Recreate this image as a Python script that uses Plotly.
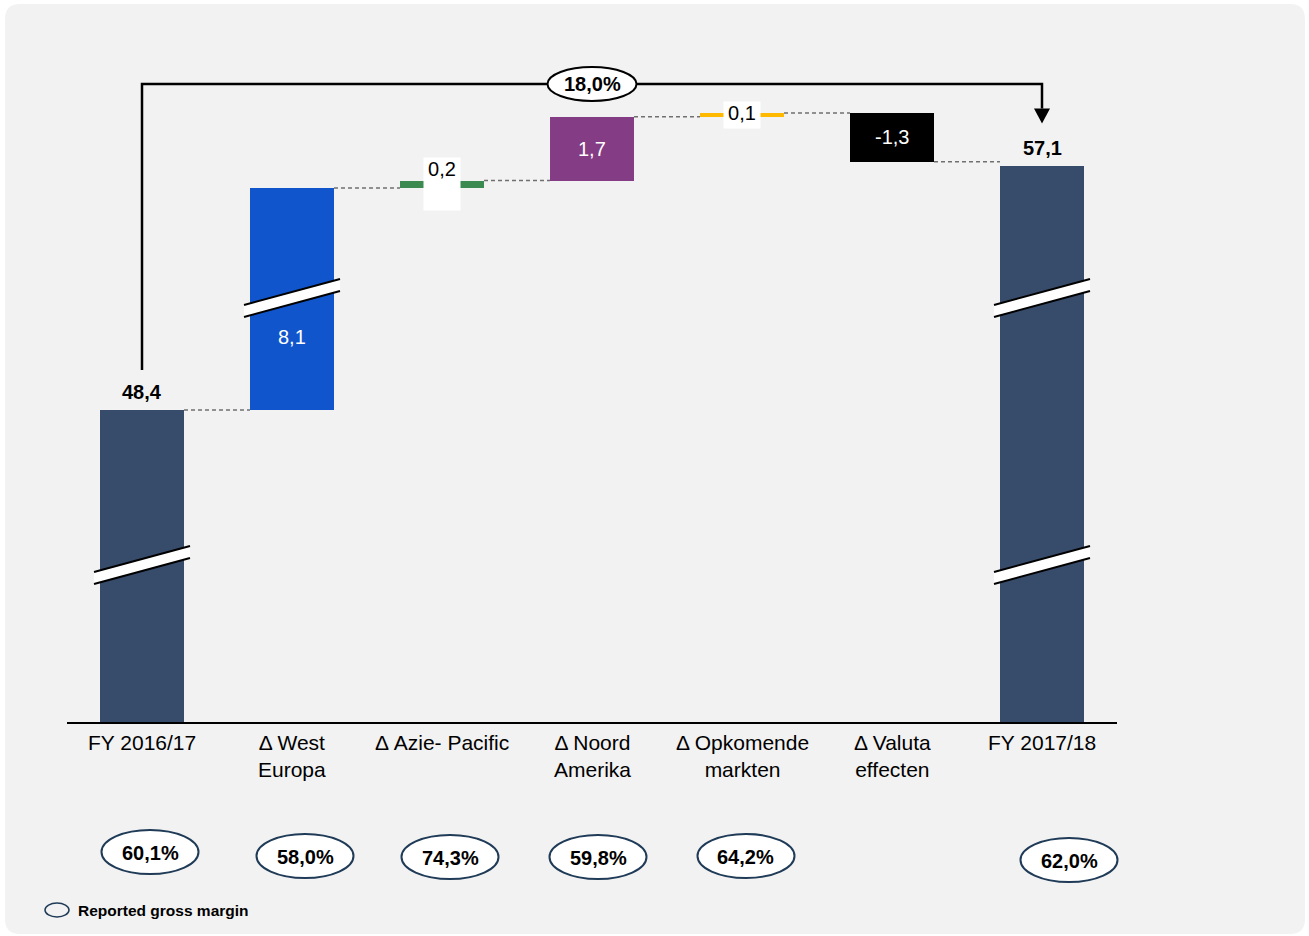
import plotly.graph_objects as go

# ---------------- data ----------------
categories = ["FY 2016/17", "Δ West<br>Europa", "Δ Azie- Pacific", "Δ Noord<br>Amerika",
              "Δ Opkomende<br>markten", "Δ Valuta<br>effecten", "FY 2017/18"]
start_value = 48.4
deltas = [8.1, 0.2, 1.7, 0.1, -1.3]
end_value = 57.1
value_labels = ["48,4", "8,1", "0,2", "1,7", "0,1", "-1,3", "57,1"]
gross_margins = ["60,1%", "58,0%", "74,3%", "59,8%", "64,2%", "", "62,0%"]
growth_label = "18,0%"
legend_label = "Reported gross margin"

# ---------------- style ----------------
FONT = "Liberation Sans, Arial, sans-serif"
bar_colors = ["#374b6a", "#1155cc", "#3b8a4f", "#843c84", "#ffb900", "#000000", "#374b6a"]
label_colors = ["black", "white", "black", "white", "black", "white", "black"]
BAR_W = 0.56
FIG_W, FIG_H = 1309, 936
L, R_EDGE, TOP, BASE = 67, 1117, 60, 722
PLOT_W, PLOT_H = R_EDGE - L, BASE - TOP

# broken value scale: two compressed segments, then linear (px per unit)
seg_px = [312, 222]
top_slope = 37.5


def disp(v):
    k0 = start_value
    k1 = start_value + deltas[0]
    if v <= k0:
        return v / k0 * seg_px[0]
    if v <= k1:
        return seg_px[0] + (v - k0) / (k1 - k0) * seg_px[1]
    return seg_px[0] + seg_px[1] + (v - k1) * top_slope


def xa(p):  # pixel -> paper x
    return (p - L) / PLOT_W


def ya(p):  # pixel -> paper y
    return (BASE - p) / PLOT_H


def yd(p):  # pixel -> display y units
    return BASE - p


# ---------------- bars ----------------
cum = [start_value]
for d in deltas:
    cum.append(cum[-1] + d)

lows = [0.0]
highs = [start_value]
for i in range(len(deltas)):
    lows.append(min(cum[i], cum[i + 1]))
    highs.append(max(cum[i], cum[i + 1]))
lows.append(0.0)
highs.append(end_value)

xs = list(range(len(categories)))
bases = [disp(v) for v in lows]
heights = [disp(h) - disp(l) for l, h in zip(lows, highs)]

fig = go.Figure()
fig.add_trace(go.Bar(x=xs, y=heights, base=bases, width=BAR_W,
                     marker=dict(color=bar_colors, line=dict(width=0)),
                     hoverinfo="skip"))

# connectors
cx, cy = [], []
for i in range(len(cum)):
    lvl = disp(cum[i])
    cx += [i + BAR_W / 2, i + 1 - BAR_W / 2, None]
    cy += [lvl, lvl, None]
fig.add_trace(go.Scatter(x=cx, y=cy, mode="lines", hoverinfo="skip",
                         line=dict(color="#707070", width=1.5, dash="4px,3px")))

shapes = []
# background rounded panel
x0, x1, y0, y1, r = 5, 1305, 4, 934, 15
bg = (f"M{xa(x0+r)},{ya(y0)} L{xa(x1-r)},{ya(y0)} Q{xa(x1)},{ya(y0)} {xa(x1)},{ya(y0+r)} "
      f"L{xa(x1)},{ya(y1-r)} Q{xa(x1)},{ya(y1)} {xa(x1-r)},{ya(y1)} "
      f"L{xa(x0+r)},{ya(y1)} Q{xa(x0)},{ya(y1)} {xa(x0)},{ya(y1-r)} "
      f"L{xa(x0)},{ya(y0+r)} Q{xa(x0)},{ya(y0)} {xa(x0+r)},{ya(y0)} Z")
shapes.append(dict(type="path", xref="paper", yref="paper", path=bg,
                   fillcolor="#f2f2f2", line=dict(width=0), layer="below"))

# axis breaks
breaks = [(0, 565), (6, 565), (1, 298), (6, 298)]
for i, py in breaks:
    c = yd(py)
    bx0, bx1 = i - 0.32, i + 0.32
    shapes.append(dict(type="path", xref="x", yref="y",
                       path=f"M{bx0},{c-7} L{bx1},{c+19} L{bx1},{c+7} L{bx0},{c-19} Z",
                       fillcolor="white", line=dict(width=0)))
    for off in (6, -6):
        shapes.append(dict(type="line", xref="x", yref="y", x0=bx0, x1=bx1,
                           y0=c - 13 + off, y1=c + 13 + off,
                           line=dict(color="black", width=2)))

# growth arrow
top_y = yd(84)
arr_bottom = disp(start_value) + 40
tip_y = disp(end_value) + 42
shapes.append(dict(type="path", xref="x", yref="y",
                   path=f"M0,{arr_bottom} L0,{top_y} L6,{top_y} L6,{tip_y+15}",
                   line=dict(color="black", width=2.5), fillcolor="rgba(0,0,0,0)"))
shapes.append(dict(type="path", xref="x", yref="y",
                   path=f"M{6-8/150},{tip_y+15} L{6+8/150},{tip_y+15} L6,{tip_y} Z",
                   fillcolor="black", line=dict(width=0)))
shapes.append(dict(type="circle", xref="x", yref="y",
                   x0=3 - 44.5 / 150, x1=3 + 44.5 / 150, y0=top_y - 17, y1=top_y + 17,
                   fillcolor="white", line=dict(color="black", width=2)))

# gross margin ellipses
margin_centers_px = [(150, 852), (305, 856), (450, 857), (598, 857), (746, 856), None, (1069, 860)]
annotations = []
for lab, cen in zip(gross_margins, margin_centers_px):
    if not lab or cen is None:
        continue
    px, py = cen
    shapes.append(dict(type="circle", xref="paper", yref="paper",
                       x0=xa(px - 48.5), x1=xa(px + 48.5), y0=ya(py + 22), y1=ya(py - 22),
                       fillcolor="white", line=dict(color="#1f3b57", width=2)))
    annotations.append(dict(xref="paper", yref="paper", x=xa(px), y=ya(py + 1),
                            xanchor="center", yanchor="middle",
                            text=f"<b>{lab}</b>", showarrow=False,
                            font=dict(size=20, color="black", family=FONT)))

# legend
shapes.append(dict(type="circle", xref="paper", yref="paper",
                   x0=xa(45), x1=xa(69), y0=ya(917), y1=ya(903),
                   fillcolor="rgba(0,0,0,0)", line=dict(color="#1f3b57", width=1.5)))
annotations.append(dict(xref="paper", yref="paper", x=xa(76), y=ya(910),
                        xanchor="left", yanchor="middle",
                        text=f"<b>{legend_label}</b>", showarrow=False,
                        font=dict(size=15.5, color="black", family=FONT)))

# growth label
annotations.append(dict(xref="x", yref="y", x=3, y=top_y, xanchor="center", yanchor="middle",
                        text=f"<b>{growth_label}</b>",
                        showarrow=False, font=dict(size=20, color="black", family=FONT)))

# category labels
for i, cat in enumerate(categories):
    annotations.append(dict(xref="x", yref="paper", x=i, y=ya(729),
                            xanchor="center", yanchor="top",
                            text=cat, showarrow=False,
                            font=dict(size=21, color="black", family=FONT)))

# value labels
for i, lab in enumerate(value_labels):
    lo, hi = bases[i], bases[i] + heights[i]
    if i in (0, len(value_labels) - 1):
        annotations.append(dict(xref="x", yref="y", x=i, y=hi, xanchor="center",
                                yanchor="bottom", yshift=5,
                                text=f"<b>{lab}</b>", showarrow=False,
                                font=dict(size=20, color="black", family=FONT)))
    elif heights[i] < 15:
        box_h = 52 if i == 2 else 26
        annotations.append(dict(xref="x", yref="y", x=i, y=(lo + hi) / 2,
                                xanchor="center", yanchor="middle",
                                text=lab, showarrow=False, bgcolor="white", borderpad=0,
                                width=36, height=box_h, valign="top",
                                font=dict(size=20, color=label_colors[i], family=FONT)))
    else:
        frac = 0.33 if i == 1 else 0.5
        annotations.append(dict(xref="x", yref="y", x=i, y=lo + frac * (hi - lo),
                                xanchor="center", yanchor="middle",
                                text=lab, showarrow=False,
                                font=dict(size=20, color=label_colors[i], family=FONT)))

fig.update_layout(
    width=FIG_W, height=FIG_H,
    margin=dict(l=L, r=FIG_W - R_EDGE, t=TOP, b=FIG_H - BASE, pad=0),
    paper_bgcolor="white", plot_bgcolor="rgba(0,0,0,0)",
    showlegend=False, bargap=0,
    font=dict(family=FONT),
    xaxis=dict(range=[-0.5, 6.5], showgrid=False, zeroline=False, showline=True,
               linecolor="black", linewidth=2, showticklabels=False, ticks="", fixedrange=True),
    yaxis=dict(range=[0, PLOT_H], visible=False, fixedrange=True),
    shapes=shapes, annotations=annotations,
)

fig.write_html("out.html", config={"displayModeBar": False},
               post_script="document.body.style.margin='0';")
